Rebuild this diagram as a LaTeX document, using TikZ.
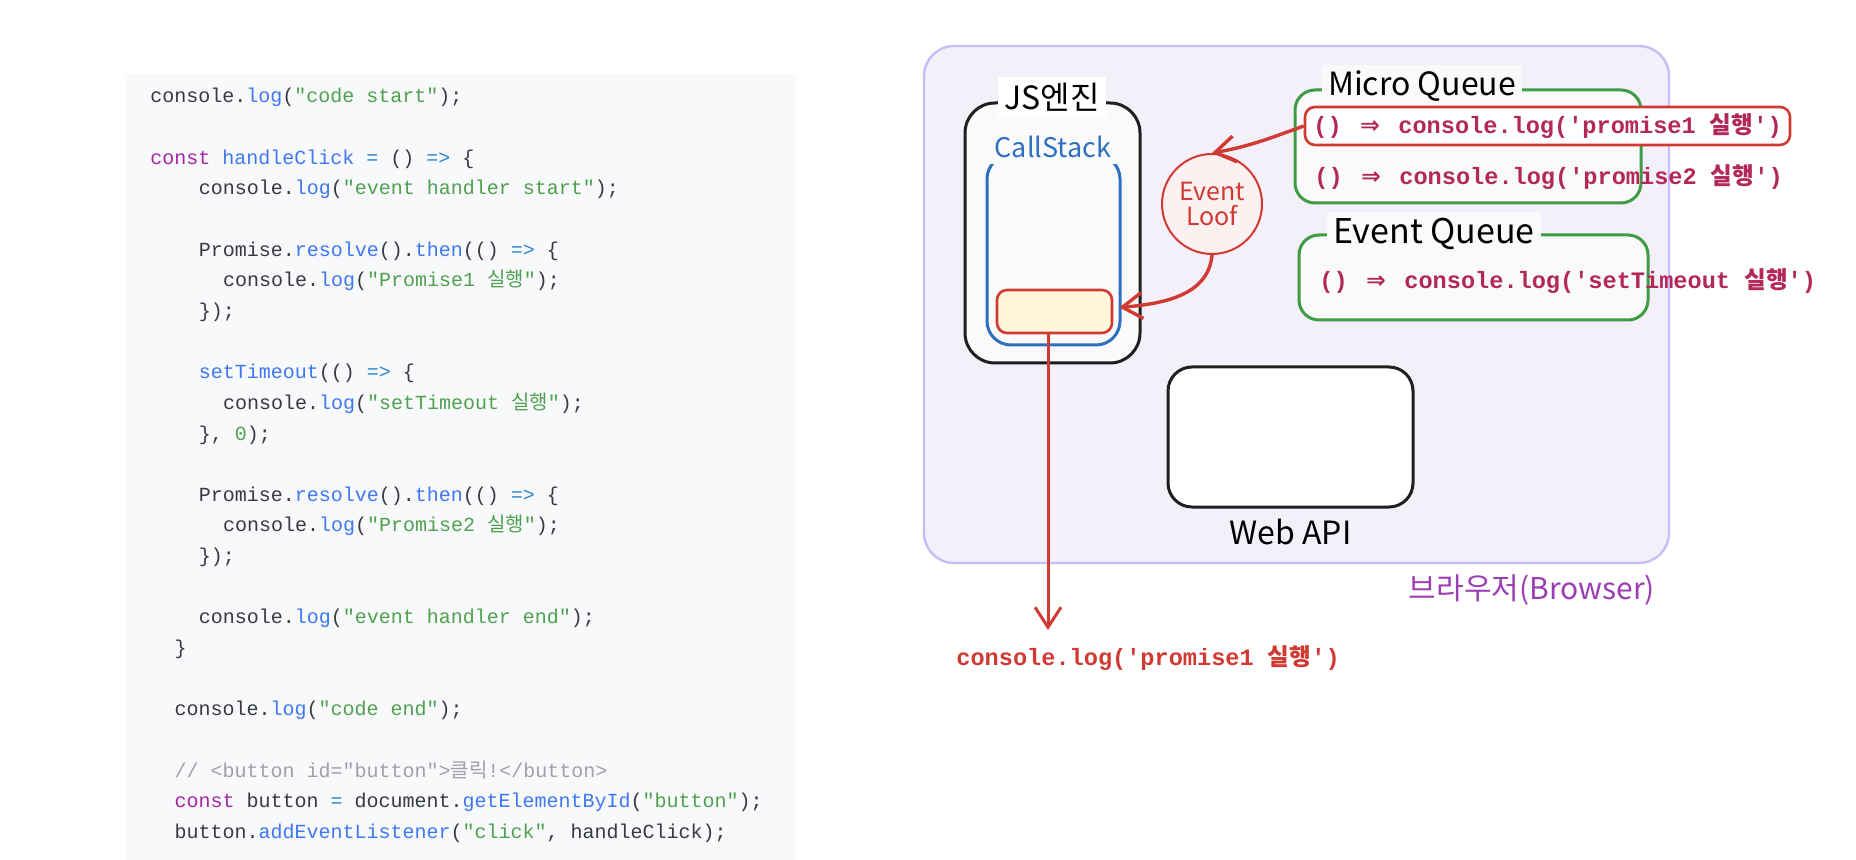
\documentclass[tikz,border=0pt]{standalone}
\usepackage{fontspec}
\setmonofont{Liberation Mono}
\newfontfamily\krfont{Noto Sans CJK KR}
\newfontfamily\handfont{Noto Sans CJK KR}
\newfontfamily\symfont{DejaVu Sans}
\usetikzlibrary{positioning,arrows.meta}

\definecolor{codebg}{HTML}{F8F9FB}
\definecolor{codeink}{HTML}{383A42}
\definecolor{jspurple}{HTML}{A626A4}
\definecolor{jsblue}{HTML}{4078F2}
\definecolor{jscyan}{HTML}{2F86D0}
\definecolor{jsgreen}{HTML}{50A14F}
\definecolor{jsgray}{HTML}{A0A1A7}
\definecolor{browserfill}{HTML}{F3F0F9}
\definecolor{browserline}{HTML}{C6BFF6}
\definecolor{browserpurple}{HTML}{9B3EB4}
\definecolor{boxfill}{HTML}{FAFAFA}
\definecolor{stackblue}{HTML}{2F6FC0}
\definecolor{redline}{HTML}{D03A33}
\definecolor{itemyellow}{HTML}{FFF6DB}
\definecolor{loopfill}{HTML}{FDF0F0}
\definecolor{queuegreen}{HTML}{3F9B45}
\definecolor{queuered}{HTML}{B3285A}

\newcommand\kr[1]{{\krfont #1}}
\newcommand\jskw[1]{\textcolor{jspurple}{#1}}
\newcommand\jsfn[1]{\textcolor{jsblue}{#1}}
\newcommand\jsop[1]{\textcolor{jscyan}{#1}}
\newcommand\jsstr[1]{\textcolor{jsgreen}{#1}}
\newcommand\jscm[1]{\textcolor{jsgray}{#1}}
\newcommand\ligarrow{\makebox[1.2em]{\symfont ⇒}}

\begin{document}
\begin{tikzpicture}[
      x=1pt, y=-1pt,
      codeline/.style={anchor=base west, inner sep=0pt, text=codeink,
                       font=\ttfamily\fontsize{10}{12}\selectfont},
      hand/.style={inner sep=2pt, font=\handfont\fontsize{16}{18}\selectfont},
      panel/.style={draw=#1, rounded corners=12pt, line width=1.5pt},
      qbox/.style={draw=queuegreen, fill=white!98!black, rounded corners=10pt,
                   line width=1.5pt},
      qitem/.style={anchor=base west, inner sep=0pt, text=queuered,
                    font=\ttfamily\bfseries\fontsize{11.8}{13}\selectfont},
      redarrow/.style={draw=redline, line width=1.7pt,
                       -{Straight Barb[length=10pt,width=13pt]}}
    ]
    \useasboundingbox (0,0) rectangle (928,430);

    % code panel
    \fill[codebg] (62.5,37) rectangle (398,430);
    \node[codeline] (c1)  at (75,51.5)    {console.\jsfn{log}(\jsstr{"code start"});};
    \node[codeline] (c3)  at (75,82.14)   {\jskw{const} \jsfn{handleClick} \jsop{=} () \jsop{=>} \{};
    \node[codeline] (c4)  at (99.2,97.46) {console.\jsfn{log}(\jsstr{"event handler start"});};
    \node[codeline] (c6)  at (99.2,128.1) {Promise.\jsfn{resolve}().\jsfn{then}(() \jsop{=>} \{};
    \node[codeline] (c7)  at (111.3,143.42) {console.\jsfn{log}(\jsstr{"Promise1 \kr{실행}"});};
    \node[codeline] (c8)  at (99.2,158.74) {\});};
    \node[codeline] (c10) at (99.2,189.38) {\jsfn{setTimeout}(() \jsop{=>} \{};
    \node[codeline] (c11) at (111.3,204.7) {console.\jsfn{log}(\jsstr{"setTimeout \kr{실행}"});};
    \node[codeline] (c12) at (99.2,220.02) {\}, \jsstr{0});};
    \node[codeline] (c14) at (99.2,250.66) {Promise.\jsfn{resolve}().\jsfn{then}(() \jsop{=>} \{};
    \node[codeline] (c15) at (111.3,265.98) {console.\jsfn{log}(\jsstr{"Promise2 \kr{실행}"});};
    \node[codeline] (c16) at (99.2,281.3) {\});};
    \node[codeline] (c18) at (99.2,311.94) {console.\jsfn{log}(\jsstr{"event handler end"});};
    \node[codeline] (c19) at (87.1,327.26) {\}};
    \node[codeline] (c21) at (87.1,357.9) {console.\jsfn{log}(\jsstr{"code end"});};
    \node[codeline] (c23) at (87.1,388.54) {\jscm{// <button id="button">\kr{클릭}!</button>}};
    \node[codeline] (c24) at (87.1,403.86) {\jskw{const} button \jsop{=} document.\jsfn{getElementById}(\jsstr{"button"});};
    \node[codeline] (c25) at (87.1,419.18) {button.\jsfn{addEventListener}(\jsstr{"click"}, handleClick);};

    % browser
    \node[panel=browserline, fill=browserfill, rounded corners=15pt, line width=1.2pt,
          minimum width=372.5pt, minimum height=258.5pt] (browser) at (648.25,152.25) {};
    \node[hand, text=browserpurple, font=\handfont\fontsize{15}{17}\selectfont]
      (blabel) at (766,295) {브라우저(Browser)};

    % js engine and call stack
    \node[panel=black!88, fill=boxfill, rounded corners=15pt,
          minimum width=87.5pt, minimum height=130pt] (engine) at (526.25,116.5) {};
    \node[hand, fill=white, inner sep=3pt] (jslabel) at (526,48.5) {JS엔진};
    \node[panel=stackblue, fill=boxfill, minimum width=66.5pt, minimum height=95pt]
      (stack) at (526.75,125) {};
    \node[hand, fill=boxfill, text=stackblue, inner sep=3pt,
          font=\handfont\fontsize{13.5}{15}\selectfont] (stacklabel) at (526.5,73.5) {CallStack};
    \node[draw=redline, fill=itemyellow, rounded corners=5pt, line width=1.3pt,
          minimum width=57.5pt, minimum height=21.5pt] (frame) at (527.25,155.75) {};

    % queues
    \node[qbox, minimum width=173pt, minimum height=56.5pt] (micro) at (734,73.25) {};
    \node[hand, fill=boxfill, inner sep=3pt, font=\handfont\fontsize{16}{18}\selectfont]
      (microlabel) at (711,43) {Micro Queue};
    \node[draw=redline, fill=white, rounded corners=5pt, line width=1.3pt,
          minimum width=242.5pt, minimum height=19pt] (hl) at (773.75,63) {};
    \node[qitem] (job1) at (656.5,67) {() \ligarrow{} console.log('promise1 \kr{실행}')};
    \node[qitem] (job2) at (657,92.5) {() \ligarrow{} console.log('promise2 \kr{실행}')};

    \node[qbox, minimum width=174.5pt, minimum height=42.5pt] (events) at (736.75,138.75) {};
    \node[hand, fill=boxfill, inner sep=3pt, font=\handfont\fontsize{17}{19}\selectfont]
      (eventlabel) at (717,117) {Event Queue};
    \node[qitem] (task1) at (659.5,144.5) {() \ligarrow{} console.log('setTimeout \kr{실행}')};

    % web api
    \node[panel=black!88, fill=white, minimum width=122.5pt, minimum height=70pt]
      (webapi) at (645.25,218.5) {};
    \node[hand, below=3pt of webapi] (apilabel) {Web API};

    % event loop
    \node[circle, draw=redline, fill=loopfill, line width=1pt, minimum size=50pt,
          inner sep=0pt, align=center, text=redline,
          font=\handfont\fontsize{12.5}{12.5}\selectfont] (loop) at (606,102) {Event\\Loof};

    \draw[redarrow] (hl.west) to[out=200, in=10] (loop.north);
    \draw[redarrow] (loop.south) to[out=-95, in=5] ([xshift=3pt, yshift=2pt]frame.east);

    % result
    \node[qitem, text=redline] (result) at (478,332.5) {console.log('promise1 \kr{실행}')};
    \coordinate (drop) at (524,315);
    \draw[redarrow, line width=1.5pt] (frame.south -| drop) -- (drop);
  \end{tikzpicture}
\end{document}
